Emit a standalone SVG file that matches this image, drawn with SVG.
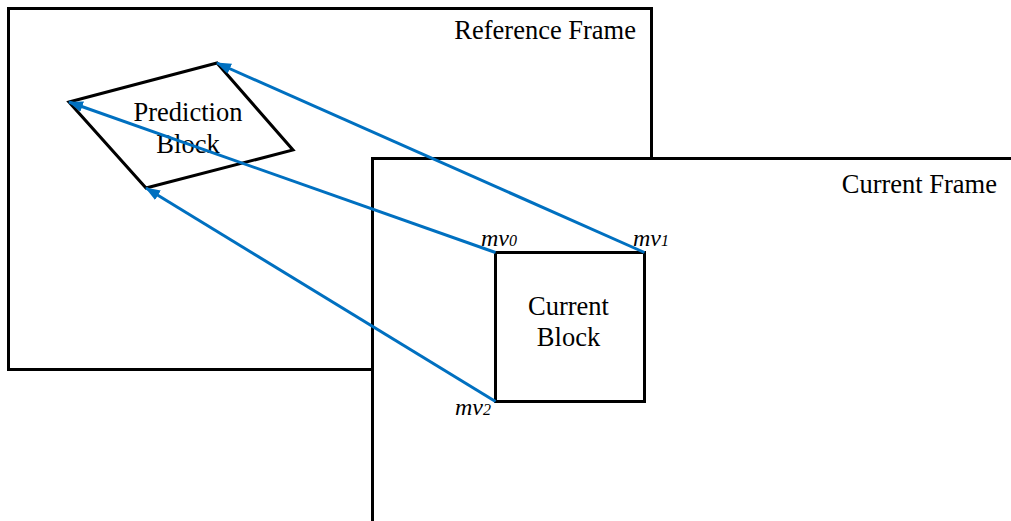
<svg xmlns="http://www.w3.org/2000/svg" width="1011" height="521" viewBox="0 0 1011 521">
  <style>
    .frame { fill: #ffffff; stroke: #000000; stroke-width: 3; }
    .block { fill: none; stroke: #000000; stroke-width: 3; stroke-linejoin: miter; }
    .mv { stroke: #0070c0; stroke-width: 3; fill: none; marker-end: url(#arrow); }
    .label { font-family: "Liberation Serif", "Times New Roman", serif; font-size: 26.5px; fill: #000000; }
    .mvtxt { font-family: "Liberation Serif", "Times New Roman", serif; font-size: 24px; font-style: italic; fill: #000000; }
    .sub { font-size: 16px; }
  </style>
  <defs>
    <marker id="arrow" viewBox="0 0 15 11" refX="14" refY="5.5" markerWidth="15" markerHeight="11" orient="auto" markerUnits="userSpaceOnUse">
      <path d="M0,0 L15,5.5 L0,11 Z" fill="#0070c0"/>
    </marker>
  </defs>

  <g id="reference-frame">
    <rect class="frame" x="8.5" y="8.5" width="643" height="361"/>
    <text class="label" x="636" y="39" text-anchor="end">Reference Frame</text>
  </g>

  <g id="prediction-block">
    <polygon class="block" points="69,102 217,63 293,150 146,188"/>
    <text class="label" x="188" y="121" text-anchor="middle">Prediction</text>
    <text class="label" x="188" y="153" text-anchor="middle">Block</text>
  </g>

  <g id="current-frame">
    <rect class="frame" x="372.5" y="158.5" width="660" height="380"/>
    <text class="label" x="997" y="193" text-anchor="end">Current Frame</text>
  </g>

  <g id="current-block">
    <rect class="block" x="495.5" y="252.5" width="149" height="149"/>
    <text class="label" x="568.5" y="315" text-anchor="middle">Current</text>
    <text class="label" x="568.5" y="346" text-anchor="middle">Block</text>
  </g>

  <g id="connectors">
    <line class="mv" x1="495.5" y1="252.5" x2="69" y2="102"/>
    <line class="mv" x1="644.5" y1="252.5" x2="217" y2="63"/>
    <line class="mv" x1="495.5" y1="401.5" x2="146" y2="188"/>
  </g>

  <g id="mv-labels">
    <text class="mvtxt" x="481" y="246">mv<tspan class="sub">0</tspan></text>
    <text class="mvtxt" x="633" y="246">mv<tspan class="sub">1</tspan></text>
    <text class="mvtxt" x="455" y="415">mv<tspan class="sub">2</tspan></text>
  </g>
</svg>
